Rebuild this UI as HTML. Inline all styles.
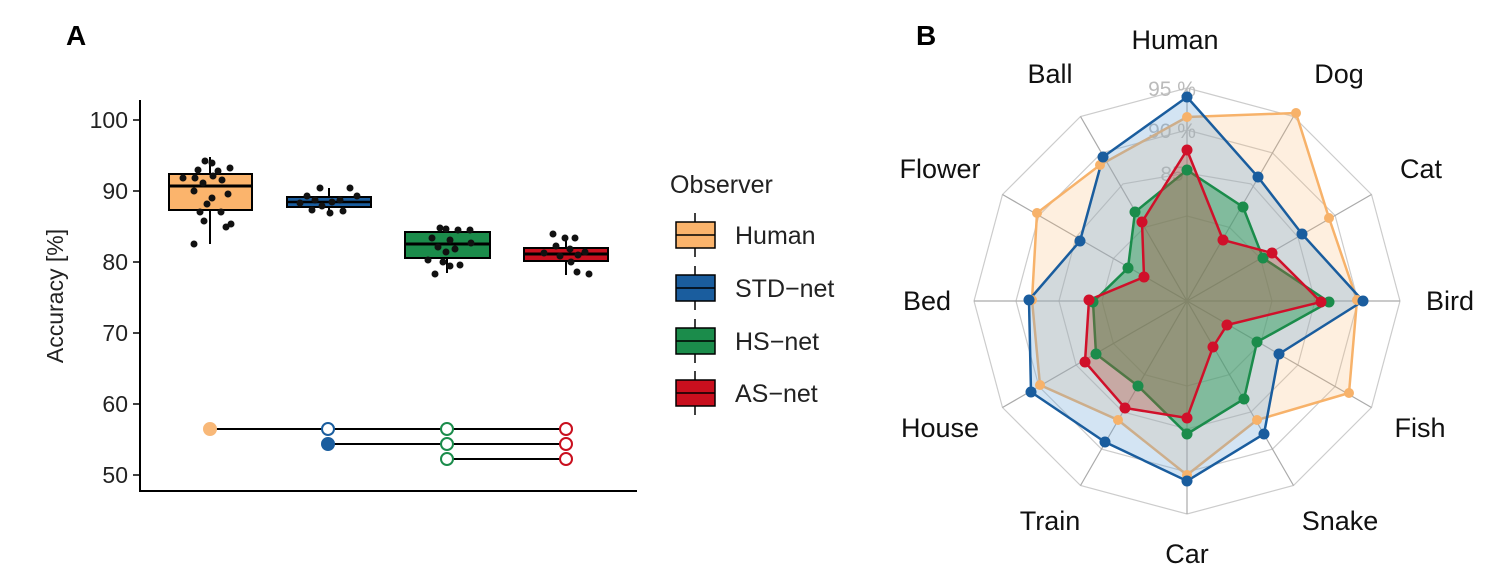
<!DOCTYPE html>
<html><head><meta charset="utf-8"><style>
body{margin:0;background:#fff}
svg{display:block;font-family:"Liberation Sans",Arial,sans-serif}
</style></head><body>
<svg width="1495" height="584" viewBox="0 0 1495 584" xmlns="http://www.w3.org/2000/svg">
<text x="66" y="45" font-size="28" font-weight="bold">A</text>
<text x="916" y="45" font-size="28" font-weight="bold">B</text>
<line x1="140" y1="100" x2="140" y2="492" stroke="#000" stroke-width="2"/>
<line x1="139" y1="491" x2="637" y2="491" stroke="#000" stroke-width="2"/>
<g font-size="23" text-anchor="end" fill="#222">
<text x="128" y="128">100</text><text x="128" y="199">90</text><text x="128" y="270">80</text>
<text x="128" y="341">70</text><text x="128" y="412">60</text><text x="128" y="483">50</text>
</g>
<g stroke="#000" stroke-width="1.5">
<line x1="133" y1="120" x2="140" y2="120"/><line x1="133" y1="191" x2="140" y2="191"/><line x1="133" y1="262" x2="140" y2="262"/>
<line x1="133" y1="333" x2="140" y2="333"/><line x1="133" y1="404" x2="140" y2="404"/><line x1="133" y1="475" x2="140" y2="475"/>
</g>
<text transform="translate(63,296) rotate(-90)" font-size="23" text-anchor="middle" fill="#222">Accuracy [%]</text>
<g stroke="#000" stroke-width="2">
<line x1="210" y1="157" x2="210" y2="244"/>
<rect x="169" y="174" width="83" height="36" fill="#fbb46c"/>
<line x1="169" y1="186" x2="252" y2="186" stroke-width="3"/>
<line x1="329" y1="188" x2="329" y2="212"/>
<rect x="287" y="197" width="84" height="10" fill="#1a5d9e"/>
<line x1="287" y1="202" x2="371" y2="202" stroke-width="2.5"/>
<line x1="447" y1="226" x2="447" y2="273"/>
<rect x="405" y="232" width="85" height="26" fill="#1b8c4b"/>
<line x1="405" y1="244" x2="490" y2="244" stroke-width="3"/>
<line x1="566" y1="240" x2="566" y2="275"/>
<rect x="524" y="248" width="84" height="13" fill="#c90f1e"/>
<line x1="524" y1="254" x2="608" y2="254" stroke-width="3"/>
</g>
<g fill="#111">
<circle cx="205" cy="161" r="3.5"/><circle cx="212" cy="163" r="3.5"/><circle cx="198" cy="170" r="3.5"/><circle cx="230" cy="168" r="3.5"/><circle cx="195" cy="178" r="3.5"/><circle cx="213" cy="176" r="3.5"/><circle cx="222" cy="180" r="3.5"/><circle cx="203" cy="183" r="3.5"/><circle cx="194" cy="191" r="3.5"/><circle cx="228" cy="194" r="3.5"/><circle cx="212" cy="198" r="3.5"/><circle cx="207" cy="204" r="3.5"/><circle cx="200" cy="212" r="3.5"/><circle cx="221" cy="212" r="3.5"/><circle cx="204" cy="221" r="3.5"/><circle cx="231" cy="224" r="3.5"/><circle cx="226" cy="227" r="3.5"/><circle cx="194" cy="244" r="3.5"/><circle cx="183" cy="178" r="3.5"/><circle cx="218" cy="171" r="3.5"/>
<circle cx="320" cy="188" r="3.5"/><circle cx="350" cy="188" r="3.5"/><circle cx="307" cy="196" r="3.5"/><circle cx="315" cy="200" r="3.5"/><circle cx="332" cy="202" r="3.5"/><circle cx="340" cy="200" r="3.5"/><circle cx="357" cy="196" r="3.5"/><circle cx="312" cy="210" r="3.5"/><circle cx="330" cy="213" r="3.5"/><circle cx="343" cy="211" r="3.5"/><circle cx="322" cy="206" r="3.5"/><circle cx="300" cy="203" r="3.5"/>
<circle cx="440" cy="228" r="3.5"/><circle cx="446" cy="229" r="3.5"/><circle cx="458" cy="230" r="3.5"/><circle cx="470" cy="230" r="3.5"/><circle cx="432" cy="238" r="3.5"/><circle cx="450" cy="240" r="3.5"/><circle cx="438" cy="247" r="3.5"/><circle cx="455" cy="249" r="3.5"/><circle cx="446" cy="252" r="3.5"/><circle cx="428" cy="260" r="3.5"/><circle cx="443" cy="262" r="3.5"/><circle cx="450" cy="266" r="3.5"/><circle cx="460" cy="265" r="3.5"/><circle cx="435" cy="274" r="3.5"/><circle cx="471" cy="243" r="3.5"/>
<circle cx="553" cy="234" r="3.5"/><circle cx="565" cy="238" r="3.5"/><circle cx="575" cy="238" r="3.5"/><circle cx="556" cy="246" r="3.5"/><circle cx="570" cy="249" r="3.5"/><circle cx="544" cy="253" r="3.5"/><circle cx="560" cy="256" r="3.5"/><circle cx="578" cy="255" r="3.5"/><circle cx="585" cy="252" r="3.5"/><circle cx="571" cy="262" r="3.5"/><circle cx="577" cy="272" r="3.5"/><circle cx="589" cy="274" r="3.5"/>
</g>
<g stroke="#000" stroke-width="2">
<line x1="210" y1="429" x2="566" y2="429"/><line x1="328" y1="444" x2="566" y2="444"/><line x1="447" y1="459" x2="566" y2="459"/>
</g>
<g stroke-width="2">
<circle cx="210" cy="429" r="6" fill="#f8b878" stroke="#f8b878"/>
<circle cx="328" cy="429" r="6" fill="#fff" stroke="#1a5d9e"/>
<circle cx="328" cy="444" r="6" fill="#1a5d9e" stroke="#1a5d9e"/>
<circle cx="447" cy="429" r="6" fill="#fff" stroke="#1b8c4b"/><circle cx="447" cy="444" r="6" fill="#fff" stroke="#1b8c4b"/><circle cx="447" cy="459" r="6" fill="#fff" stroke="#1b8c4b"/>
<circle cx="566" cy="429" r="6" fill="#fff" stroke="#c90f1e"/><circle cx="566" cy="444" r="6" fill="#fff" stroke="#c90f1e"/><circle cx="566" cy="459" r="6" fill="#fff" stroke="#c90f1e"/>
</g>
<text x="670" y="193" font-size="25" fill="#222">Observer</text>
<g stroke="#000" stroke-width="1.5">
<line x1="695" y1="213" x2="695" y2="257"/><rect x="676" y="222" width="39" height="26" fill="#fbb46c"/><line x1="676" y1="235" x2="715" y2="235"/>
<line x1="695" y1="266" x2="695" y2="310"/><rect x="676" y="275" width="39" height="26" fill="#1a5d9e"/><line x1="676" y1="288" x2="715" y2="288"/>
<line x1="695" y1="319" x2="695" y2="363"/><rect x="676" y="328" width="39" height="26" fill="#1b8c4b"/><line x1="676" y1="341" x2="715" y2="341"/>
<line x1="695" y1="371" x2="695" y2="415"/><rect x="676" y="380" width="39" height="26" fill="#c90f1e"/><line x1="676" y1="393" x2="715" y2="393"/>
</g>
<g font-size="25" fill="#222">
<text x="735" y="244">Human</text><text x="735" y="297">STD−net</text><text x="735" y="350">HS−net</text><text x="735" y="402">AS−net</text>
</g>
<g fill="none" stroke="#ccc" stroke-width="1.2">
<polygon points="1187,88 1293.5,116.5 1371.5,194.5 1400,301 1371.5,407.5 1293.5,485.5 1187,514 1080.5,485.5 1002.5,407.5 974,301 1002.5,194.5 1080.5,116.5"/>
<polygon points="1187,130 1272.5,152.9 1335.1,215.5 1358,301 1335.1,386.5 1272.5,449.1 1187,472 1101.5,449.1 1038.9,386.5 1016,301 1038.9,215.5 1101.5,152.9"/>
<polygon points="1187,173 1251,183.9 1297.9,237 1315,301 1297.9,365 1251,411.9 1187,429 1123,411.9 1076.1,365 1059,301 1076.1,237 1123,183.9"/>
<polygon points="1187,216 1229.5,227.4 1260.6,258.5 1272,301 1260.6,343.5 1229.5,374.6 1187,386 1144.5,374.6 1113.4,343.5 1102,301 1113.4,258.5 1144.5,227.4"/>
<g stroke="#aaa"><line x1="1187" y1="88" x2="1187" y2="514"/><line x1="974" y1="301" x2="1400" y2="301"/>
<line x1="1293.5" y1="116.5" x2="1080.5" y2="485.5"/><line x1="1371.5" y1="194.5" x2="1002.5" y2="407.5"/><line x1="1371.5" y1="407.5" x2="1002.5" y2="194.5"/><line x1="1293.5" y1="485.5" x2="1080.5" y2="116.5"/></g>
</g>
<g font-size="21" fill="#bbb" text-anchor="middle"><text x="1172" y="96">95 %</text><text x="1172" y="138">90 %</text><text x="1172" y="181">85</text></g>
<polygon points="1187,117 1296,113 1329,218 1357,300 1349,393 1257,420 1187,475 1118,420 1040,385 1032,300 1037,213 1100,165" fill="rgba(251,180,108,0.22)" stroke="#f7b26a" stroke-width="2.5"/>
<polygon points="1187,97 1258,177 1302,234 1363,301 1279,354 1264,434 1187,481 1105,442 1031,392 1029,300 1080,241 1103,157" fill="rgba(110,165,215,0.3)" stroke="#1a5d9e" stroke-width="2.5"/>
<polygon points="1187,170 1243,207 1263,258 1329,302 1257,342 1244,399 1187,434 1138,386 1096,354 1093,302 1128,268 1135,212" fill="rgba(30,150,80,0.45)" stroke="#1b8c4b" stroke-width="2.5"/>
<polygon points="1187,150 1223,240 1272,253 1321,302 1227,325 1213,347 1187,418 1125,408 1085,362 1089,300 1144,277 1142,222" fill="rgba(180,80,60,0.35)" stroke="#d0102a" stroke-width="2.5"/>
<g fill="#f7b26a"><circle cx="1187" cy="117" r="5"/><circle cx="1296" cy="113" r="5"/><circle cx="1329" cy="218" r="5"/><circle cx="1357" cy="300" r="5"/><circle cx="1349" cy="393" r="5"/><circle cx="1257" cy="420" r="5"/><circle cx="1187" cy="475" r="5"/><circle cx="1118" cy="420" r="5"/><circle cx="1040" cy="385" r="5"/><circle cx="1032" cy="300" r="5"/><circle cx="1037" cy="213" r="5"/><circle cx="1100" cy="165" r="5"/></g>
<g fill="#1a5d9e"><circle cx="1187" cy="97" r="5.5"/><circle cx="1258" cy="177" r="5.5"/><circle cx="1302" cy="234" r="5.5"/><circle cx="1363" cy="301" r="5.5"/><circle cx="1279" cy="354" r="5.5"/><circle cx="1264" cy="434" r="5.5"/><circle cx="1187" cy="481" r="5.5"/><circle cx="1105" cy="442" r="5.5"/><circle cx="1031" cy="392" r="5.5"/><circle cx="1029" cy="300" r="5.5"/><circle cx="1080" cy="241" r="5.5"/><circle cx="1103" cy="157" r="5.5"/></g>
<g fill="#1b8c4b"><circle cx="1187" cy="170" r="5.5"/><circle cx="1243" cy="207" r="5.5"/><circle cx="1263" cy="258" r="5.5"/><circle cx="1329" cy="302" r="5.5"/><circle cx="1257" cy="342" r="5.5"/><circle cx="1244" cy="399" r="5.5"/><circle cx="1187" cy="434" r="5.5"/><circle cx="1138" cy="386" r="5.5"/><circle cx="1096" cy="354" r="5.5"/><circle cx="1093" cy="302" r="5.5"/><circle cx="1128" cy="268" r="5.5"/><circle cx="1135" cy="212" r="5.5"/></g>
<g fill="#d0102a"><circle cx="1187" cy="150" r="5.5"/><circle cx="1223" cy="240" r="5.5"/><circle cx="1272" cy="253" r="5.5"/><circle cx="1321" cy="302" r="5.5"/><circle cx="1227" cy="325" r="5.5"/><circle cx="1213" cy="347" r="5.5"/><circle cx="1187" cy="418" r="5.5"/><circle cx="1125" cy="408" r="5.5"/><circle cx="1085" cy="362" r="5.5"/><circle cx="1089" cy="300" r="5.5"/><circle cx="1144" cy="277" r="5.5"/><circle cx="1142" cy="222" r="5.5"/></g>
<g font-size="27" fill="#111" text-anchor="middle">
<text x="1175" y="49">Human</text><text x="1339" y="83">Dog</text><text x="1421" y="178">Cat</text><text x="1450" y="310">Bird</text>
<text x="1420" y="437">Fish</text><text x="1340" y="530">Snake</text><text x="1187" y="563">Car</text><text x="1050" y="530">Train</text>
<text x="940" y="437">House</text><text x="927" y="310">Bed</text><text x="940" y="178">Flower</text><text x="1050" y="83">Ball</text>
</g>
</svg>
</body></html>
